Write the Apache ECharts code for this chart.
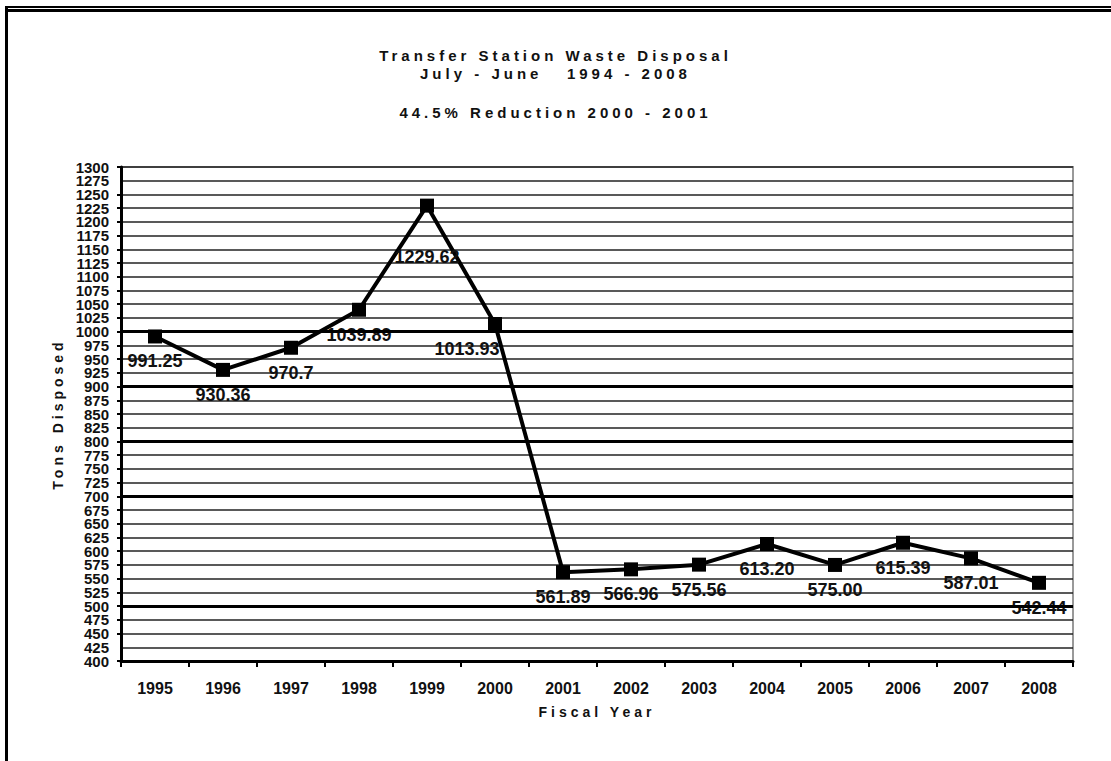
<!DOCTYPE html>
<html>
<head>
<meta charset="utf-8">
<script src="https://cdn.jsdelivr.net/npm/echarts@6/dist/echarts.min.js"></script>
<style>
    html, body { margin: 0; padding: 0; background: #fff; }
    #chart { width: 1111px; height: 761px; }
    /* spaced-out headings (title, axis names) use Liberation Sans */
    #chart text[style*="Liberation Sans"] { letter-spacing: 4px; }
</style>
</head>
<body>
<div id="chart"></div>
<script>
// fiscal years (x axis)
const years = ['1995', '1996', '1997', '1998', '1999', '2000', '2001',
    '2002', '2003', '2004', '2005', '2006', '2007', '2008'];
// tons disposed per year
const tons = [991.25, 930.36, 970.7, 1039.89, 1229.62, 1013.93, 561.89,
    566.96, 575.56, 613.20, 575.00, 615.39, 587.01, 542.44];
// labels as printed on the original chart
const tonLabels = ['991.25', '930.36', '970.7', '1039.89', '1229.62', '1013.93', '561.89',
    '566.96', '575.56', '613.20', '575.00', '615.39', '587.01', '542.44'];
// heavier gridlines in the picture
const heavyLines = [500, 700, 800, 900, 1000];
// y range
const yMin = 400;
const yMax = 1300;
const yStep = 25;

const chart = echarts.init(document.getElementById('chart'), null, { renderer: 'svg' });

const spaced = 'Liberation Sans';
const plain = 'Arial';

const yLabelStyle = {
    fontFamily: plain,
    fontSize: 15,
    lineHeight: 12,
    fontWeight: 'bold',
    color: '#111',
    margin: 12
};

// label tweaks for a couple of points (1999 sits far below, 2000 shifted left)
const seriesData = tons.map((v, i) => {
    const item = { value: v, label: { formatter: tonLabels[i] } };
    if (years[i] === '1999') item.label.distance = 35;
    if (years[i] === '2000') item.label.offset = [-28, 0];
    return item;
});

const option = {
    backgroundColor: '#fff',
    animation: false,
    title: [
        {
            text: 'Transfer Station Waste Disposal\nJuly - June   1994 - 2008',
            left: 'center',
            top: 41,
            textStyle: { fontFamily: spaced, fontSize: 15, fontWeight: 'bold', color: '#111', lineHeight: 18 }
        },
        {
            text: '44.5% Reduction 2000 - 2001',
            left: 'center',
            top: 100,
            textStyle: { fontFamily: spaced, fontSize: 15, fontWeight: 'bold', color: '#111' }
        }
    ],
    // page frame (top double rule and left rule)
    graphic: [
        { type: 'rect', shape: { x: 5, y: 6, width: 1200, height: 2 }, style: { fill: '#000' }, silent: true },
        { type: 'rect', shape: { x: 5, y: 9, width: 1200, height: 3 }, style: { fill: '#000' }, silent: true },
        { type: 'rect', shape: { x: 5, y: 6, width: 3, height: 800 }, style: { fill: '#000' }, silent: true }
    ],
    grid: {
        left: 121,
        right: 38,
        top: 167,
        bottom: 100,
        show: true,
        borderColor: '#999',
        borderWidth: 2,
        outerBoundsMode: 'none'
    },
    xAxis: {
        type: 'category',
        data: years,
        boundaryGap: true,
        name: 'Fiscal Year',
        nameLocation: 'middle',
        nameGap: 44,
        nameTextStyle: { fontFamily: spaced, fontSize: 14, fontWeight: 'bold', color: '#111' },
        axisLine: { lineStyle: { color: '#000', width: 3 } },
        axisTick: { show: true, length: 6, lineStyle: { color: '#000', width: 2 } },
        axisLabel: { fontFamily: plain, fontSize: 16, fontWeight: 'bold', color: '#111', margin: 19, interval: 0 },
        splitLine: { show: false }
    },
    yAxis: [
        {
            type: 'value',
            min: yMin,
            max: yMax,
            interval: yStep,
            name: 'Tons Disposed',
            nameLocation: 'middle',
            nameGap: 55,
            nameRotate: 90,
            nameTextStyle: { fontFamily: spaced, fontSize: 14, fontWeight: 'bold', color: '#111' },
            axisLine: { show: true, lineStyle: { color: '#000', width: 3 } },
            axisTick: { show: true, length: 4, lineStyle: { color: '#000', width: 2 } },
            axisLabel: Object.assign({}, yLabelStyle, {
                showMinLabel: true,
                showMaxLabel: true,
                formatter: v => String(v)
            }),
            splitLine: { lineStyle: { color: '#222', width: 1.5 } }
        },
        {
            // labels next to the ends (1275, 425) that the main axis drops
            type: 'value',
            position: 'left',
            min: yMin,
            max: yMax,
            interval: yStep,
            axisLine: { show: false },
            axisTick: { show: false },
            splitLine: { show: false },
            axisLabel: Object.assign({}, yLabelStyle, {
                formatter: v => (v === yMin + yStep || v === yMax - yStep) ? String(v) : ''
            })
        }
    ],
    series: [
        {
            type: 'line',
            data: seriesData,
            yAxisIndex: 0,
            symbol: 'rect',
            symbolSize: 14,
            itemStyle: { color: '#000' },
            lineStyle: { color: '#000', width: 4 },
            label: {
                show: true,
                position: 'bottom',
                distance: 9,
                fontFamily: plain,
                fontSize: 18,
                fontWeight: 'bold',
                color: '#111'
            },
            markLine: {
                silent: true,
                symbol: 'none',
                label: { show: false },
                lineStyle: { color: '#000', width: 3, type: 'solid' },
                data: heavyLines.map(v => ({ yAxis: v }))
            },
            z: 3
        }
    ]
};

chart.setOption(option);
</script>
</body>
</html>
